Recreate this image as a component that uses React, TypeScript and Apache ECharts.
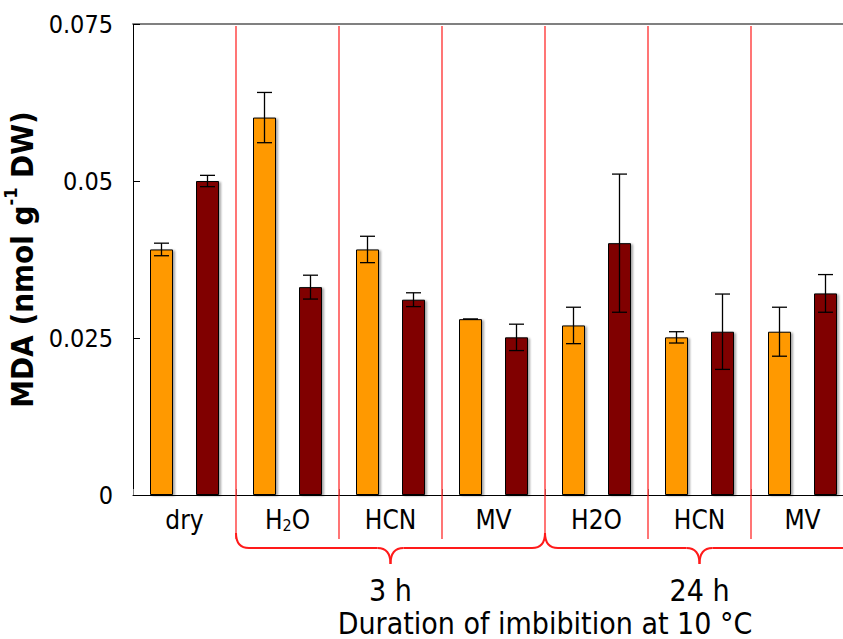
import React, { useEffect, useRef } from "react";
import * as echarts from "echarts";

const categories = ["dry", "H2O", "HCN", "MV", "H2O", "HCN", "MV"];
const subscriptLabelIndex = 1; // "H₂O" written with a subscript 2
const orangeMeans = [0.0391, 0.0601, 0.0391, 0.028, 0.027, 0.0251, 0.026];
const orangeErrors = [0.001, 0.004, 0.0021, 0, 0.0029, 0.0009, 0.0039];
const darkMeans = [0.05, 0.0331, 0.0311, 0.0251, 0.0401, 0.026, 0.0321];
const darkErrors = [0.0009, 0.0019, 0.0011, 0.0021, 0.011, 0.006, 0.003];
const yMin = 0;
const yMax = 0.075;
const yInterval = 0.025;
const durationLabels = ["3 h", "24 h"];
const xTitle = "Duration of imbibition at 10 \u00b0C";

const FONT = "'DejaVu Sans Condensed', 'DejaVu Sans', sans-serif";
const ORANGE = "#FF9900";
const DARK = "#800000";
const RED = "#ff1a1a";
const BAR_W = 23;

export default function App() {
  const ref = useRef<HTMLDivElement>(null);

  useEffect(() => {
    if (!ref.current) return;
    const chart = echarts.init(ref.current, null, { renderer: "svg" });

    const errSeries = (means: number[], errs: number[], dir: number) => ({
      type: "custom",
      coordinateSystem: "cartesian2d",
      xAxisIndex: 0,
      yAxisIndex: 0,
      z: 5,
      encode: { x: 0, y: 1 },
      data: means.map((m, i) => [i, m, errs[i]]),
      renderItem: (params: any, api: any) => {
        const i = api.value(0);
        const m = api.value(1);
        const e = api.value(2);
        const top = api.coord([i, m + e]);
        const bot = api.coord([i, m - e]);
        const x = top[0] + dir * BAR_W;
        const cap = 7.5;
        const st = { stroke: "#000", lineWidth: 1.3 };
        return {
          type: "group",
          children: [
            { type: "line", shape: { x1: x, y1: top[1], x2: x, y2: bot[1] }, style: st },
            { type: "line", shape: { x1: x - cap, y1: top[1], x2: x + cap, y2: top[1] }, style: st },
            { type: "line", shape: { x1: x - cap, y1: bot[1], x2: x + cap, y2: bot[1] }, style: st },
          ],
        };
      },
    });

    const barStyle = (color: string) => ({
      color,
      borderColor: "#000",
      borderWidth: 1,
      shadowColor: "rgba(0,0,0,0.35)",
      shadowBlur: 2,
      shadowOffsetX: 2,
      shadowOffsetY: 1,
    });

    chart.setOption({
      animation: false,
      backgroundColor: "#fff",
      textStyle: { fontFamily: FONT },
      grid: {
        left: 133,
        right: 6,
        top: 24,
        bottom: 144,
        containLabel: false,
        outerBoundsMode: "none",
      },
      xAxis: [
        {
          type: "category",
          data: categories,
          position: "bottom",
          axisLine: { lineStyle: { color: "#000", width: 1 } },
          axisTick: { show: true, inside: true, length: 6, lineStyle: { color: "#808080" } },
          axisLabel: {
            interval: 0,
            margin: 8,
            fontSize: 26,
            color: "#000",
            fontFamily: FONT,
            formatter: (v: string, idx: number) =>
              idx === subscriptLabelIndex ? "{n|H}{s|2}{n|O}" : "{n|" + v + "}",
            rich: {
              n: { fontSize: 26, fontFamily: FONT, color: "#000", verticalAlign: "bottom", lineHeight: 30 },
              s: { fontSize: 16, fontFamily: FONT, color: "#000", verticalAlign: "bottom", lineHeight: 14 },
            },
          },
        },
        {
          type: "category",
          data: categories,
          position: "top",
          axisLine: { lineStyle: { color: "#808080", width: 2 } },
          axisTick: { show: false },
          axisLabel: { show: false },
        },
      ],
      yAxis: {
        type: "value",
        min: yMin,
        max: yMax,
        interval: yInterval,
        splitLine: { show: false },
        axisLine: { show: true, lineStyle: { color: "#000", width: 1 } },
        axisTick: { show: true, inside: true, length: 7, lineStyle: { color: "#000" } },
        axisLabel: { fontSize: 25, color: "#000", margin: 20, fontFamily: FONT },
        name: "{b|MDA (nmol g}{sup|-1}{b| DW)}",
        nameLocation: "middle",
        nameRotate: 90,
        nameGap: 80,
        nameTextStyle: {
          rich: {
            b: { fontSize: 31, fontWeight: "bold", fontFamily: FONT, color: "#000", lineHeight: 36, verticalAlign: "bottom" },
            sup: { fontSize: 18, fontWeight: "bold", fontFamily: FONT, color: "#000", lineHeight: 36, verticalAlign: "top" },
          },
        },
      },
      series: [
        {
          type: "bar",
          data: orangeMeans,
          barWidth: BAR_W,
          barGap: "100%",
          itemStyle: barStyle(ORANGE),
        },
        {
          type: "bar",
          data: darkMeans,
          barWidth: BAR_W,
          barGap: "100%",
          itemStyle: barStyle(DARK),
        },
        errSeries(orangeMeans, orangeErrors, -1),
        errSeries(darkMeans, darkErrors, 1),
      ],
    });

    // Annotations: red separators, braces and group labels, positioned from the axes
    const cx = (i: number) => chart.convertToPixel({ xAxisIndex: 0 }, i) as number;
    const band = cx(1) - cx(0);
    const boundary = (k: number) => cx(k) + band / 2; // right edge of category k
    const yTop = chart.convertToPixel({ yAxisIndex: 0 }, yMax) as number;
    const yBase = chart.convertToPixel({ yAxisIndex: 0 }, yMin) as number;
    const plotRight = cx(categories.length - 1) + band / 2;

    const lineSt = { stroke: RED, lineWidth: 1.2 };
    const graphics: any[] = [];
    for (let k = 0; k < categories.length - 1; k++) {
      const x = boundary(k);
      graphics.push({
        type: "line",
        z: 10,
        shape: { x1: x, y1: yTop + 2, x2: x, y2: yBase + 44 },
        style: lineSt,
      });
    }

    const braceSt = { stroke: RED, lineWidth: 2, fill: "none" };
    const brace = (x0: number, x1: number) => {
      const yEnd = yBase + 38;
      const yMid = yBase + 53;
      const yTip = yBase + 69;
      const r = 13;
      const xc = (x0 + x1) / 2;
      return [
        { type: "bezierCurve", shape: { x1: x0, y1: yEnd, x2: x0 + r, y2: yMid, cpx1: x0, cpy1: yMid }, style: braceSt },
        { type: "line", shape: { x1: x0 + r, y1: yMid, x2: xc - r, y2: yMid }, style: braceSt },
        { type: "bezierCurve", shape: { x1: xc - r, y1: yMid, x2: xc, y2: yTip, cpx1: xc, cpy1: yMid }, style: braceSt },
        { type: "bezierCurve", shape: { x1: xc, y1: yTip, x2: xc + r, y2: yMid, cpx1: xc, cpy1: yMid }, style: braceSt },
        { type: "line", shape: { x1: xc + r, y1: yMid, x2: x1 - r, y2: yMid }, style: braceSt },
        { type: "bezierCurve", shape: { x1: x1 - r, y1: yMid, x2: x1, y2: yEnd, cpx1: x1, cpy1: yMid }, style: braceSt },
      ];
    };
    const b3hStart = boundary(0);
    const b24hStart = boundary(3);
    graphics.push(...brace(b3hStart, b24hStart));
    graphics.push(...brace(b24hStart, plotRight));

    const textSt = (text: string, size: number) => ({
      text,
      fontSize: size,
      fontFamily: FONT,
      fill: "#000",
      align: "center",
      verticalAlign: "middle",
    });
    graphics.push({ type: "text", x: (b3hStart + b24hStart) / 2, y: yBase + 95, style: textSt(durationLabels[0], 30) });
    graphics.push({ type: "text", x: (b24hStart + plotRight) / 2, y: yBase + 95, style: textSt(durationLabels[1], 30) });
    graphics.push({ type: "text", x: b24hStart, y: yBase + 128, style: textSt(xTitle, 30) });

    chart.setOption({ graphic: graphics });

    return () => chart.dispose();
  }, []);

  return (
    <div
      style={{
        position: "absolute",
        left: 0,
        top: 0,
        width: 843,
        height: 639,
        overflow: "hidden",
        background: "#fff",
      }}
    >
      <div ref={ref} style={{ width: 860, height: 639 }} />
    </div>
  );
}
